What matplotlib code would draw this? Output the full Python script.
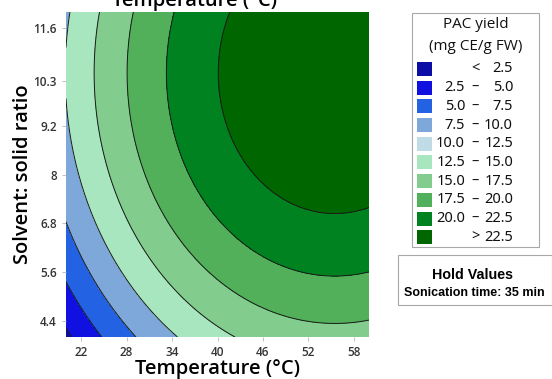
import numpy as np
import matplotlib.pyplot as plt
from matplotlib.patches import Rectangle

# response surface (quadratic model)
temp_range = [20, 60]
ratio_range = [4, 12]
yield_max = 22.3
temp_opt = 55.5
ratio_opt = 10.5
temp_curv = 0.0097
ratio_curv = 0.192

levels = [-100, 2.5, 5.0, 7.5, 10.0, 12.5, 15.0, 17.5, 20.0, 100]
band_colors = ["#0c0ca6", "#1010e0", "#2462e4", "#7ea8d9",
               "#a8e6c0", "#82cc8e", "#52b05a", "#008220", "#006600"]

legend_colors = ["#0c0ca6", "#1010e0", "#2462e4", "#7ea8d9", "#bfdce6",
                 "#a8e6c0", "#82cc8e", "#52b05a", "#008220", "#006600"]
legend_lo = ["", "2.5", "5.0", "7.5", "10.0", "12.5", "15.0", "17.5", "20.0", ""]
legend_hi = ["2.5", "5.0", "7.5", "10.0", "12.5", "15.0", "17.5", "20.0", "22.5", "22.5"]
legend_sep = ["<", "–", "–", "–", "–", "–", "–", "–", "–", ">"]

x_ticks = [22, 28, 34, 40, 46, 52, 58]
y_ticks = [4.4, 5.6, 6.8, 8.0, 9.2, 10.3, 11.6]
y_tick_labels = ["4.4", "5.6", "6.8", "8", "9.2", "10.3", "11.6"]

plt.rcParams['font.family'] = ['Open Sans', 'DejaVu Sans']

fig = plt.figure(figsize=(5.52, 3.79), dpi=100)
ax = fig.add_axes([66/552, 1 - 337/379, 303/552, 325/379])

T = np.linspace(temp_range[0], temp_range[1], 300)
R = np.linspace(ratio_range[0], ratio_range[1], 300)
TT, RR = np.meshgrid(T, R)
Z = yield_max - temp_curv * (TT - temp_opt)**2 - ratio_curv * (RR - ratio_opt)**2

ax.contourf(TT, RR, Z, levels=levels, colors=band_colors)
ax.contour(TT, RR, Z, levels=levels[1:-1], colors="#1a1a1a", linewidths=0.7)

ax.set_xlim(temp_range)
ax.set_ylim(ratio_range)
ax.set_xticks(x_ticks)
ax.set_yticks(y_ticks)
ax.set_yticklabels(y_tick_labels)
ax.tick_params(labelsize=8.5, colors="#b4b4b4", labelcolor="#333333", length=3, width=0.6)
for lbl in ax.get_xticklabels() + ax.get_yticklabels():
    lbl.set_fontweight("semibold")
for s in ax.spines.values():
    s.set_visible(False)

ax.set_xlabel("Temperature (°C)", fontsize=14.5, fontweight="semibold", labelpad=0)
ax.set_ylabel("Solvent: solid ratio", fontsize=14.5, fontweight="semibold", labelpad=0)
fig.text(195/552, 1 - 6/379, "Temperature (°C)", fontsize=14.5, fontweight="semibold",
         ha="center", va="baseline")

# legend box
fig.patches.append(Rectangle((412/552, 1 - 247/379), 127/552, 234/379,
                             transform=fig.transFigure, fill=False,
                             edgecolor="#a8a8a8", linewidth=0.8))
fig.text(476/552, 1 - 25/379, "PAC yield", fontsize=11, ha="center", va="center",
         color="#111111")
fig.text(476/552, 1 - 47/379, "(mg CE/g FW)", fontsize=11, ha="center", va="center",
         color="#111111")
for i in range(len(legend_colors)):
    yc = 69 + i * 18.7
    fig.patches.append(Rectangle((417/552, 1 - (yc + 7)/379), 15/552, 14/379,
                                 transform=fig.transFigure,
                                 facecolor=legend_colors[i], edgecolor="none"))
    kw = dict(fontsize=10.5, fontweight="semibold", va="center",
              family=["Noto Sans", "DejaVu Sans"], color="#111111")
    fig.text(465/552, 1 - yc/379, legend_lo[i], ha="right", **kw)
    fig.text(475/552, 1 - yc/379, legend_sep[i], ha="center", **kw)
    fig.text(513/552, 1 - yc/379, legend_hi[i], ha="right", **kw)

# hold values box
fig.patches.append(Rectangle((398/552, 1 - 305/379), 154/552, 50/379,
                             transform=fig.transFigure, fill=False,
                             edgecolor="#a8a8a8", linewidth=0.8))
fig.text(472/552, 1 - 275/379, "Hold Values", fontsize=10.3, fontweight="bold",
         family="Liberation Sans", ha="center", va="center")
fig.text(474/552, 1 - 293/379, "Sonication time: 35 min", fontsize=9, fontweight="bold",
         family="Liberation Sans", ha="center", va="center")

fig.savefig("out.png", dpi=100)
